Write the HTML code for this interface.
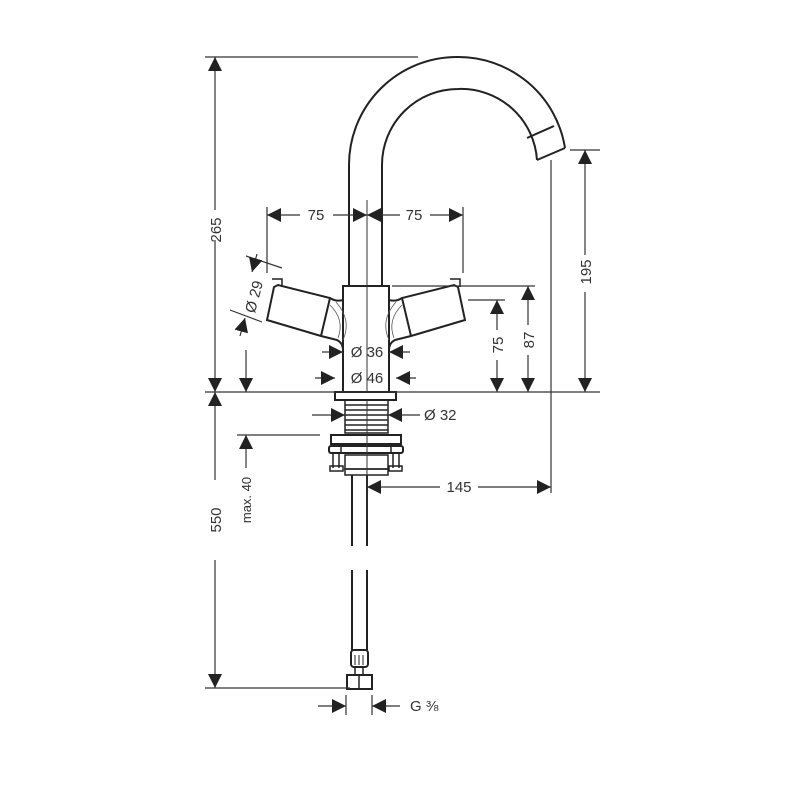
<!DOCTYPE html>
<html><head><meta charset="utf-8"><style>
html,body{margin:0;padding:0;background:#fff;}
svg{display:block}
text{font-family:"Liberation Sans",sans-serif;font-size:15px;fill:#333}
</style></head><body>
<svg width="800" height="800" viewBox="0 0 800 800">
<defs>
<marker id="a" viewBox="0 0 10 10" refX="10" refY="5" markerWidth="14" markerHeight="14" markerUnits="userSpaceOnUse" orient="auto"><path d="M0,0 L10,5 L0,10 z" fill="#222"/></marker>
</defs>
<g stroke="#222" fill="none" stroke-width="2">
<!-- spout -->
<path d="M349,286 V165 A108,108 0 0 1 457,57 A108,108 0 0 1 565,148"/>
<path d="M382,286 V165 A76,76 0 0 1 458,89 A76,76 0 0 1 537,160"/>
<path d="M537,160 L565,148"/>
<path d="M527,138 L554,126"/>
<!-- body -->
<path d="M343,345 V286 H389 V345"/>
<path d="M343,345 V392 M389,345 V392"/>
<rect x="335" y="392" width="61" height="8"/>
<!-- left handle -->
<path d="M343,300 Q336,302 330,298 L278,285 L274,287 L267,320 L321,336 L337,340 Q343,343 343,350"/>
<path d="M330,298 L321,336"/>
<path d="M272,279 H282 V287" stroke-width="1.5"/>
<!-- right handle -->
<path d="M389,300 Q396,302 402,298 L454,285 L458,287 L465,320 L411,336 L395,340 Q389,343 389,350"/>
<path d="M402,298 L411,336"/>
<path d="M450,279 H460 V287" stroke-width="1.5"/>
</g>
<g stroke="#555" fill="none" stroke-width="0.8">
<path d="M336,302 Q352,320 343,340"/><path d="M330,305 Q345,320 338,338"/>
<path d="M396,302 Q380,320 389,340"/><path d="M402,305 Q387,320 394,338"/>
</g>
<!-- threads -->
<g stroke="#222" stroke-width="1.5" fill="none">
<rect x="345" y="400" width="43" height="33"/>
<path d="M345,405 H388 M345,410 H388 M345,415 H388 M345,420 H388 M345,425 H388 M345,430 H388"/>
<rect x="331" y="435" width="70" height="9" stroke-width="2"/>
<rect x="329" y="446" width="74" height="7" rx="2" stroke-width="2"/>
<path d="M333,453 V468 M339,453 V468 M393,453 V468 M399,453 V468"/>
<rect x="330" y="466" width="13" height="5"/><rect x="389" y="466" width="13" height="5"/>
<rect x="345" y="455" width="43" height="14"/>
<rect x="345" y="469" width="43" height="6"/>
<path d="M341,446 V453 M391,446 V453"/>
</g>
<!-- hose -->
<g stroke="#222" stroke-width="2" fill="none">
<path d="M352,475 V546 M367,475 V546 M352,570 V650 M367,570 V650"/>
<rect x="351" y="650" width="17" height="17" rx="3"/>
<path d="M355,655 V665 M359,655 V665 M363,655 V665" stroke-width="1"/>
<path d="M355,667 V675 M363,675 V667" stroke-width="1.5"/>
<rect x="347" y="675" width="25" height="14"/>
<path d="M359,675 V689" stroke-width="1.5"/>
</g>
<!-- center line -->
<path d="M367,200 V392 M367,400 V520" stroke="#333" stroke-width="1"/>
<!-- dim lines -->
<g stroke="#333" stroke-width="1.2" fill="none">
<path d="M205,57 H418"/>
<path d="M205,392 H600"/>
<path d="M205,688 H350"/>
<path d="M237,435 H320"/>
<path d="M267,207 V273 M463,207 V273"/>
<path d="M551,160 V493"/>
<path d="M570,150 H600"/>
<path d="M392,286 H535 M468,300 H505"/>
<path d="M346,695 V715 M372,695 V715"/>
</g>
<g stroke="#333" stroke-width="1.2" fill="none">
<line x1="215" y1="210" x2="215" y2="57" marker-end="url(#a)"/>
<line x1="215" y1="240" x2="215" y2="392" marker-end="url(#a)"/>
<line x1="215" y1="480" x2="215" y2="392" marker-end="url(#a)"/>
<line x1="215" y1="560" x2="215" y2="688" marker-end="url(#a)"/>
<line x1="585" y1="255" x2="585" y2="150" marker-end="url(#a)"/>
<line x1="585" y1="292" x2="585" y2="392" marker-end="url(#a)"/>
<line x1="300" y1="215" x2="267" y2="215" marker-end="url(#a)"/>
<line x1="333" y1="215" x2="367" y2="215" marker-end="url(#a)"/>
<line x1="400" y1="215" x2="367" y2="215" marker-end="url(#a)"/>
<line x1="430" y1="215" x2="463" y2="215" marker-end="url(#a)"/>
<line x1="528" y1="325" x2="528" y2="286" marker-end="url(#a)"/>
<line x1="528" y1="355" x2="528" y2="392" marker-end="url(#a)"/>
<line x1="497" y1="330" x2="497" y2="300" marker-end="url(#a)"/>
<line x1="497" y1="360" x2="497" y2="392" marker-end="url(#a)"/>
<line x1="246" y1="350" x2="246" y2="392" marker-end="url(#a)"/>
<line x1="246" y1="468" x2="246" y2="435" marker-end="url(#a)"/>
<line x1="440" y1="487" x2="367" y2="487" marker-end="url(#a)"/>
<line x1="478" y1="487" x2="551" y2="487" marker-end="url(#a)"/>
<line x1="322" y1="352" x2="343" y2="352" marker-end="url(#a)"/>
<line x1="410" y1="352" x2="389" y2="352" marker-end="url(#a)"/>
<line x1="315" y1="378" x2="335" y2="378" marker-end="url(#a)"/>
<line x1="416" y1="378" x2="396" y2="378" marker-end="url(#a)"/>
<line x1="312" y1="415" x2="345" y2="415" marker-end="url(#a)"/>
<line x1="420" y1="415" x2="388" y2="415" marker-end="url(#a)"/>
<line x1="318" y1="706" x2="346" y2="706" marker-end="url(#a)"/>
<line x1="400" y1="706" x2="372" y2="706" marker-end="url(#a)"/>
<!-- Ø29 -->
<path d="M246,256 L282,268 M230,310 L262,322"/>
<line x1="257" y1="254" x2="252" y2="272" marker-end="url(#a)"/>
<line x1="240" y1="336" x2="245" y2="318" marker-end="url(#a)"/>
</g>
<!-- labels -->
<text x="316" y="220" text-anchor="middle">75</text>
<text x="414" y="220" text-anchor="middle">75</text>
<text x="367" y="357" text-anchor="middle">Ø 36</text>
<text x="367" y="383" text-anchor="middle">Ø 46</text>
<text x="424" y="420">Ø 32</text>
<text x="459" y="492" text-anchor="middle">145</text>
<text x="410" y="711">G ⅜</text>
<text transform="translate(221,230) rotate(-90)" text-anchor="middle">265</text>
<text transform="translate(221,520) rotate(-90)" text-anchor="middle">550</text>
<text transform="translate(591,272) rotate(-90)" text-anchor="middle">195</text>
<text transform="translate(534,340) rotate(-90)" text-anchor="middle">87</text>
<text transform="translate(503,345) rotate(-90)" text-anchor="middle">75</text>
<text transform="translate(251,500) rotate(-90)" text-anchor="middle" style="font-size:13px">max. 40</text>
<text transform="translate(259,298) rotate(-75)" text-anchor="middle">Ø 29</text>
</svg>
</body></html>
